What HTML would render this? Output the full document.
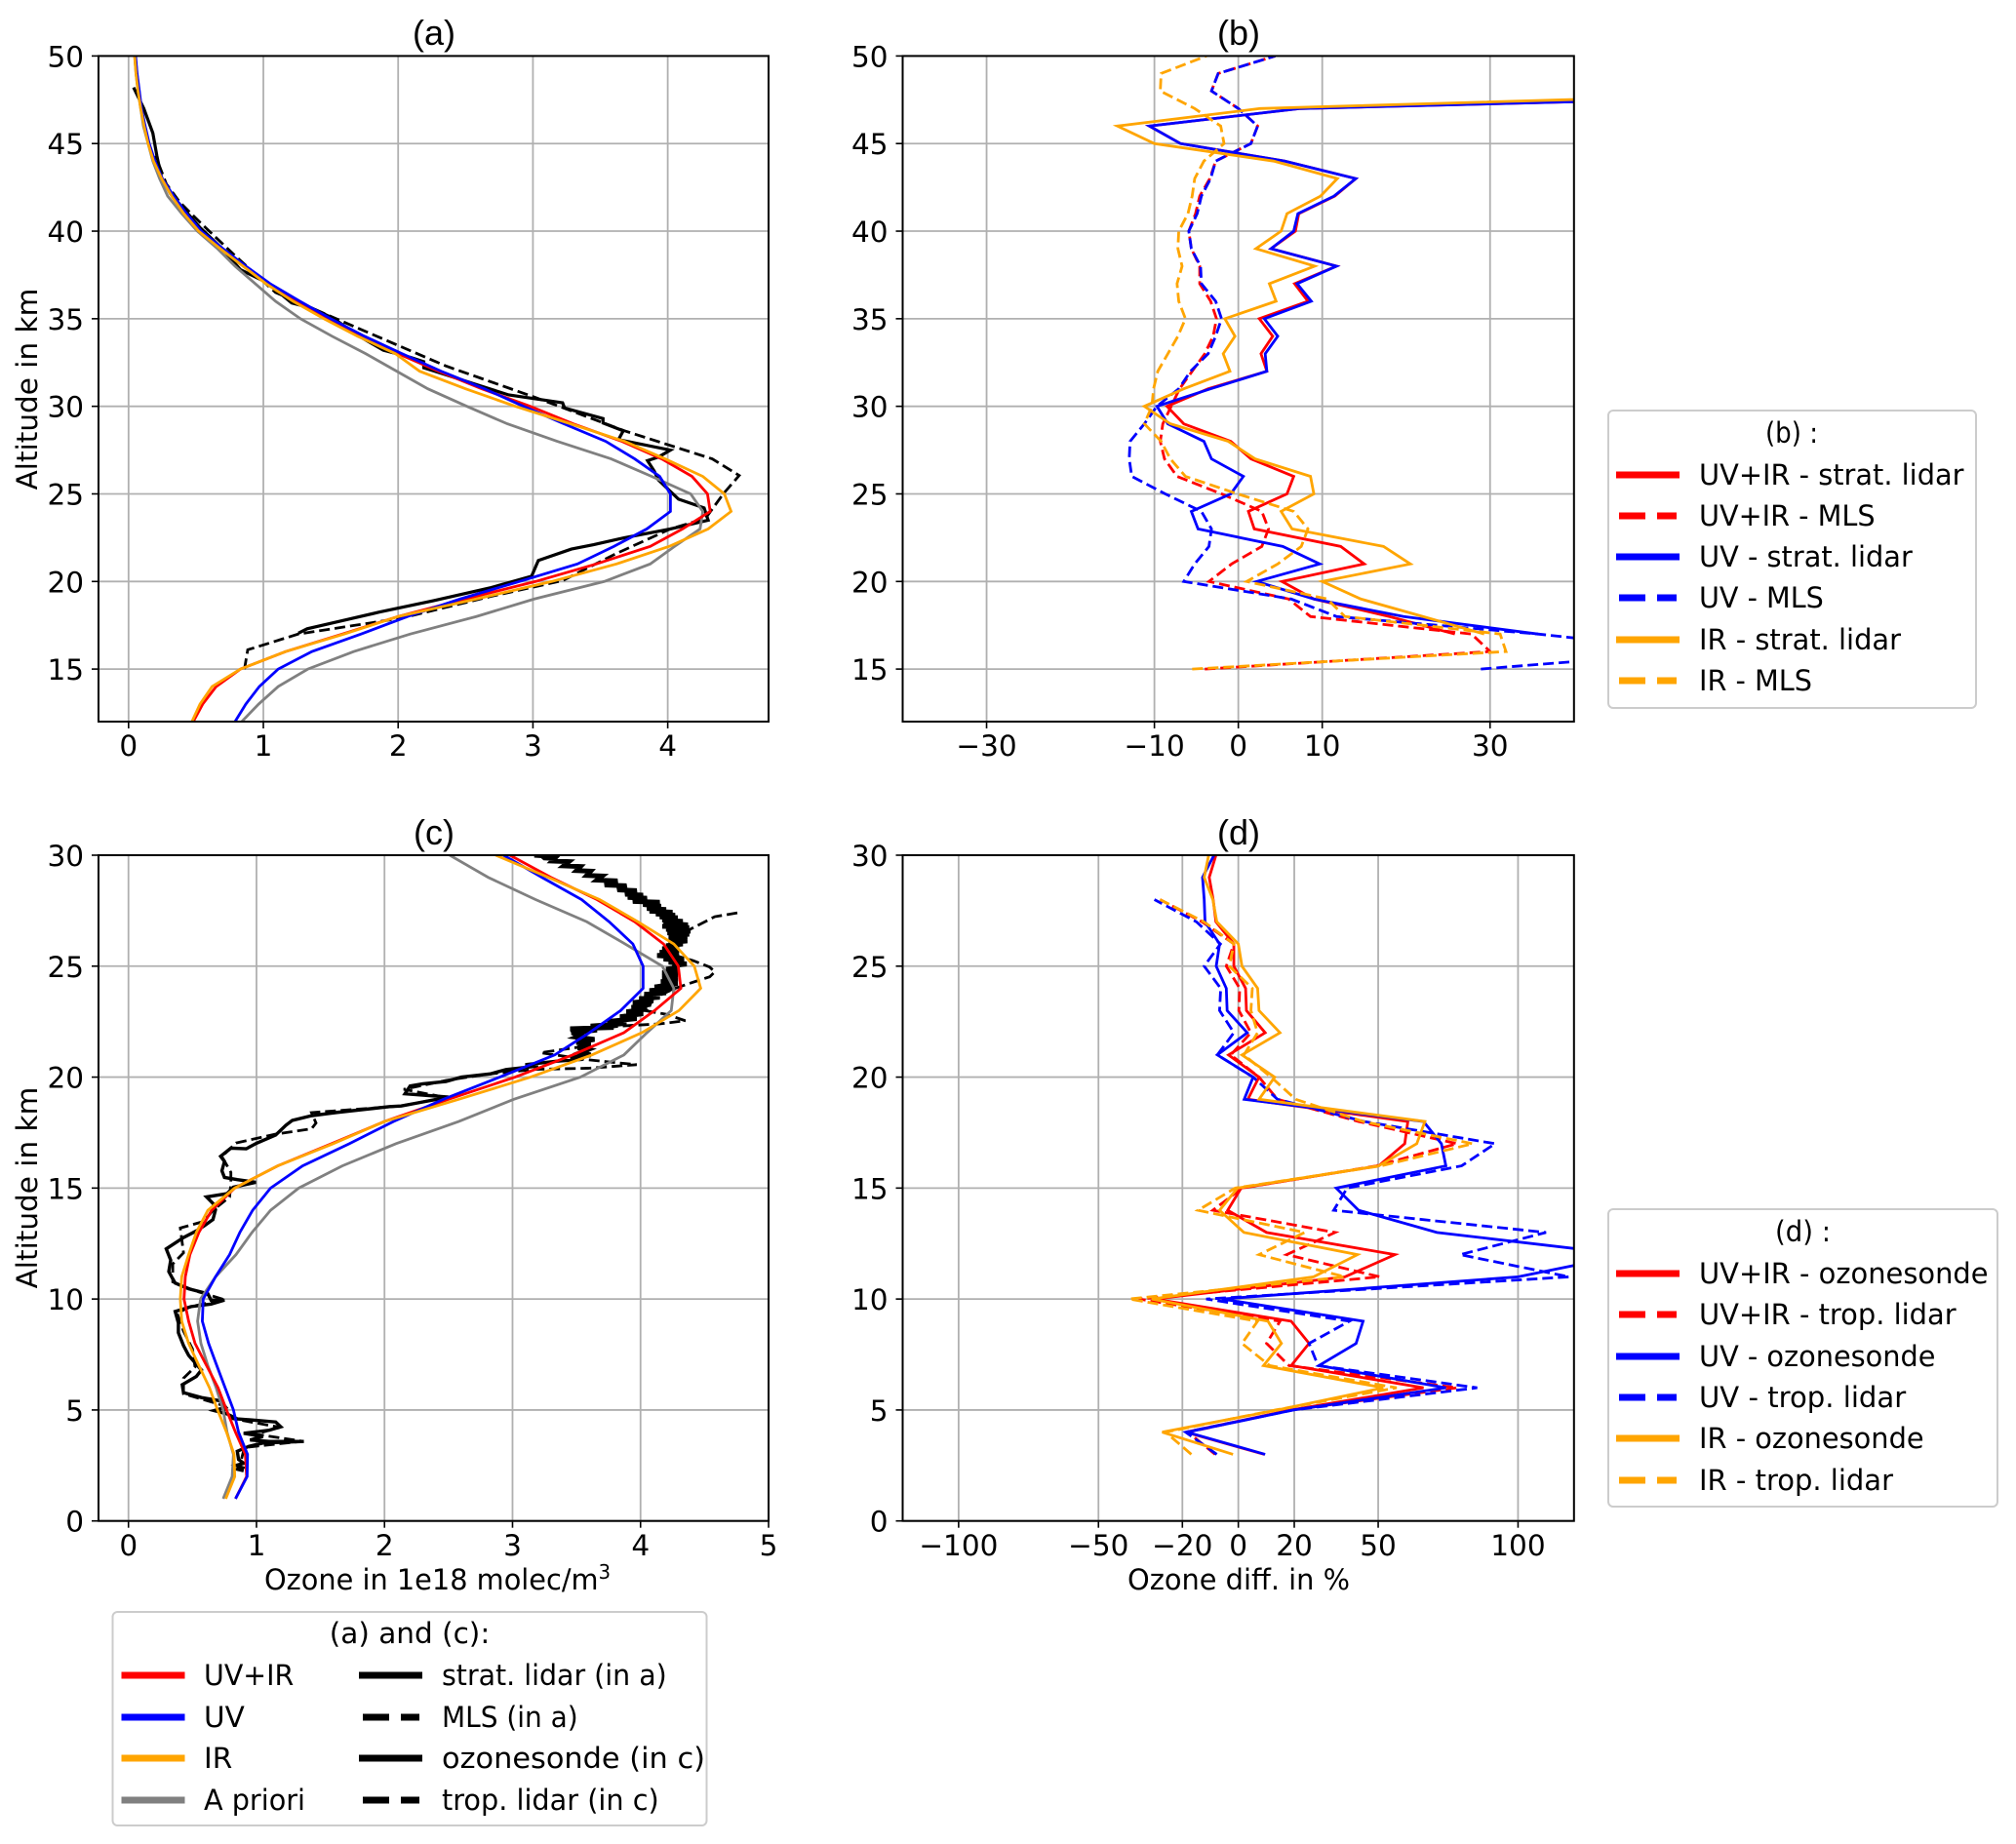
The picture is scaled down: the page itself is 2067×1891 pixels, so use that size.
<!DOCTYPE html>
<html>
<head>
<meta charset="utf-8">
<title>Ozone profiles</title>
<style>
html,body{margin:0;padding:0;background:#fff;}
svg{display:block;}
text{font-family:"DejaVu Sans","Liberation Sans",sans-serif;fill:#000;}
.lab{font-size:29.5px;}
.title{font-family:"Liberation Sans",sans-serif;font-size:36px;}
</style>
</head>
<body>
<svg id="chart" xmlns="http://www.w3.org/2000/svg" width="2067" height="1891" viewBox="0 0 2067 1891">
<rect x="0" y="0" width="2067" height="1891" fill="#fff"/>
<defs id="defs"></defs>
<g id="panel-a"></g>
<g id="panel-b"></g>
<g id="panel-c"></g>
<g id="panel-d"></g>

<text class="title" x="445" y="46" text-anchor="middle">(a)</text>
<text class="title" x="1270" y="46" text-anchor="middle">(b)</text>
<text class="title" x="445" y="866" text-anchor="middle">(c)</text>
<text class="title" x="1270" y="866" text-anchor="middle">(d)</text>

<text class="lab" transform="translate(38,399) rotate(-90)" text-anchor="middle">Altitude in km</text>
<text class="lab" transform="translate(38,1218) rotate(-90)" text-anchor="middle">Altitude in km</text>
<text class="lab" x="271" y="1630" textLength="355" lengthAdjust="spacingAndGlyphs">Ozone in 1e18 molec/m<tspan font-size="20" dy="-11">3</tspan></text>
<text class="lab" x="1156" y="1630" textLength="228" lengthAdjust="spacingAndGlyphs">Ozone diff. in %</text>

<g>
<rect x="1649" y="421" width="377" height="305" rx="5" fill="#fff" stroke="#cccccc" stroke-width="2"/>
<text class="lab" x="1810" y="454" textLength="54" lengthAdjust="spacingAndGlyphs">(b) :</text>
<line x1="1657" x2="1722" y1="487" y2="487" stroke="#ff0000" stroke-width="7"/>
<text class="lab" x="1742" y="497" textLength="271.5" lengthAdjust="spacingAndGlyphs">UV+IR - strat. lidar</text>
<line x1="1660" x2="1719" y1="529" y2="529" stroke="#ff0000" stroke-width="7" stroke-dasharray="27 12"/>
<text class="lab" x="1742" y="539" textLength="180.6" lengthAdjust="spacingAndGlyphs">UV+IR - MLS</text>
<line x1="1657" x2="1722" y1="571" y2="571" stroke="#0000ff" stroke-width="7"/>
<text class="lab" x="1742" y="581" textLength="218.8" lengthAdjust="spacingAndGlyphs">UV - strat. lidar</text>
<line x1="1660" x2="1719" y1="613" y2="613" stroke="#0000ff" stroke-width="7" stroke-dasharray="27 12"/>
<text class="lab" x="1742" y="623" textLength="127.8" lengthAdjust="spacingAndGlyphs">UV - MLS</text>
<line x1="1657" x2="1722" y1="656" y2="656" stroke="#ffa500" stroke-width="7"/>
<text class="lab" x="1742" y="666" textLength="207" lengthAdjust="spacingAndGlyphs">IR - strat. lidar</text>
<line x1="1660" x2="1719" y1="698" y2="698" stroke="#ffa500" stroke-width="7" stroke-dasharray="27 12"/>
<text class="lab" x="1742" y="708" textLength="116" lengthAdjust="spacingAndGlyphs">IR - MLS</text>
</g>

<g>
<rect x="1649" y="1240" width="399" height="305" rx="5" fill="#fff" stroke="#cccccc" stroke-width="2"/>
<text class="lab" x="1820" y="1273" textLength="57" lengthAdjust="spacingAndGlyphs">(d) :</text>
<line x1="1657" x2="1722" y1="1306" y2="1306" stroke="#ff0000" stroke-width="7"/>
<text class="lab" x="1742" y="1316" textLength="296.6" lengthAdjust="spacingAndGlyphs">UV+IR - ozonesonde</text>
<line x1="1660" x2="1719" y1="1348" y2="1348" stroke="#ff0000" stroke-width="7" stroke-dasharray="27 12"/>
<text class="lab" x="1742" y="1358" textLength="263.6" lengthAdjust="spacingAndGlyphs">UV+IR - trop. lidar</text>
<line x1="1657" x2="1722" y1="1391" y2="1391" stroke="#0000ff" stroke-width="7"/>
<text class="lab" x="1742" y="1401" textLength="242.5" lengthAdjust="spacingAndGlyphs">UV - ozonesonde</text>
<line x1="1660" x2="1719" y1="1433" y2="1433" stroke="#0000ff" stroke-width="7" stroke-dasharray="27 12"/>
<text class="lab" x="1742" y="1443" textLength="212.2" lengthAdjust="spacingAndGlyphs">UV - trop. lidar</text>
<line x1="1657" x2="1722" y1="1475" y2="1475" stroke="#ffa500" stroke-width="7"/>
<text class="lab" x="1742" y="1485" textLength="230.6" lengthAdjust="spacingAndGlyphs">IR - ozonesonde</text>
<line x1="1660" x2="1719" y1="1518" y2="1518" stroke="#ffa500" stroke-width="7" stroke-dasharray="27 12"/>
<text class="lab" x="1742" y="1528" textLength="199" lengthAdjust="spacingAndGlyphs">IR - trop. lidar</text>
</g>

<g>
<rect x="115.5" y="1653" width="609" height="219" rx="5" fill="#fff" stroke="#cccccc" stroke-width="2"/>
<text class="lab" x="420" y="1685" text-anchor="middle">(a) and (c):</text>
<line x1="124.5" x2="189.5" y1="1718" y2="1718" stroke="#ff0000" stroke-width="7"/>
<text class="lab" x="209" y="1728" textLength="92.3" lengthAdjust="spacingAndGlyphs">UV+IR</text>
<line x1="124.5" x2="189.5" y1="1761" y2="1761" stroke="#0000ff" stroke-width="7"/>
<text class="lab" x="209" y="1771">UV</text>
<line x1="124.5" x2="189.5" y1="1803" y2="1803" stroke="#ffa500" stroke-width="7"/>
<text class="lab" x="209" y="1813">IR</text>
<line x1="124.5" x2="189.5" y1="1846" y2="1846" stroke="#808080" stroke-width="7"/>
<text class="lab" x="209" y="1856" textLength="104" lengthAdjust="spacingAndGlyphs">A priori</text>
<line x1="368" x2="433" y1="1718" y2="1718" stroke="#000" stroke-width="7"/>
<text class="lab" x="453" y="1728" textLength="230.7" lengthAdjust="spacingAndGlyphs">strat. lidar (in a)</text>
<line x1="372" x2="430" y1="1761" y2="1761" stroke="#000" stroke-width="7" stroke-dasharray="27 12"/>
<text class="lab" x="453" y="1771" textLength="139.7" lengthAdjust="spacingAndGlyphs">MLS (in a)</text>
<line x1="368" x2="433" y1="1803" y2="1803" stroke="#000" stroke-width="7"/>
<text class="lab" x="453" y="1813" textLength="270" lengthAdjust="spacingAndGlyphs">ozonesonde (in c)</text>
<line x1="372" x2="430" y1="1846" y2="1846" stroke="#000" stroke-width="7" stroke-dasharray="27 12"/>
<text class="lab" x="453" y="1856" textLength="222.7" lengthAdjust="spacingAndGlyphs">trop. lidar (in c)</text>
</g>
</svg>

<script>
// ---- Tick labels ----
const ticksA = [0, 1, 2, 3, 4];
const ticksB = [-30, -10, 0, 10, 30];
const ticksC = [0, 1, 2, 3, 4, 5];
const ticksD = [-100, -50, -20, 0, 20, 50, 100];
const altTicksTop = [15, 20, 25, 30, 35, 40, 45, 50];
const altTicksBottom = [0, 5, 10, 15, 20, 25, 30];

// ---- Retrievals (ozone, 1e18 molec/m3) at altitudes 1..50 km ----
const retrievalAlt = [1,2,3,4,5,6,7,8,9,10,11,12,13,14,15,16,17,18,19,20,21,22,23,24,25,26,27,28,29,30,31,32,33,34,35,36,37,38,39,40,41,42,43,44,45,46,47,48,49,50];
const uvIr = [.836,.923,.913,.836,.766,.70,.61,.52,.47,.434,.444,.48,.55,.65,.83,1.165,1.587,2.0,2.5,3.02,3.47,3.87,4.11,4.315,4.295,4.18,3.955,3.66,3.3,2.98,2.62,2.3,2.0,1.72,1.48,1.25,1.04,.86,.69,.53,.42,.33,.25,.19,.15,.12,.095,.078,.062,.05];
const uv = [.836,.927,.93,.86,.82,.755,.69,.626,.577,.584,.68,.79,.87,.97,1.11,1.36,1.725,2.07,2.46,2.9,3.33,3.6,3.845,4.02,4.02,3.94,3.755,3.54,3.23,2.93,2.64,2.32,2.03,1.75,1.5,1.27,1.05,.87,.7,.54,.43,.335,.25,.196,.153,.123,.096,.08,.063,.052];
const ir = [.76,.83,.825,.766,.696,.633,.55,.47,.416,.405,.416,.47,.53,.62,.83,1.165,1.6,2.0,2.58,3.14,3.62,4.01,4.3,4.47,4.42,4.26,3.98,3.68,3.28,2.87,2.5,2.16,1.98,1.7,1.45,1.22,1.02,.85,.68,.52,.41,.32,.245,.185,.145,.115,.09,.07,.055,.045];
const apriori = [.74,.81,.82,.77,.74,.685,.62,.566,.54,.563,.68,.84,.965,1.11,1.33,1.67,2.09,2.58,3.01,3.53,3.87,4.05,4.24,4.26,4.17,3.88,3.58,3.18,2.81,2.51,2.22,1.99,1.76,1.51,1.275,1.09,.94,.79,.66,.51,.395,.29,.23,.18,.145,.11,.09,.07,.055,.045];

// ---- Stratospheric lidar, panel a ----
const stratLidarO3 = [.037,.113,.18,.21,.245,.31,.395,.53,.695,.83,1.03,1.21,1.36,1.525,1.69,1.89,2.09,2.19,2.19,2.355,2.555,2.82,3.22,3.235,3.52,3.52,3.67,3.635,4.02,3.93,3.85,3.9,3.93,4.08,4.27,4.3,4.02,3.68,3.45,3.285,3.04,2.99,2.69,2.26,1.86,1.325,1.26];
const stratLidarAlt = [48.2,47,45.6,44.3,43.05,42.15,41.4,40.2,39,37.8,37.05,35.9,35.6,35,34.1,33.2,32.8,32.55,32.2,31.8,31.3,30.65,30.2,29.9,29.3,29.05,28.6,28.1,27.5,27.1,26.9,26.3,25.8,24.7,24.2,23.5,23,22.5,22.1,21.85,21.2,20.3,19.65,18.9,18.25,17.3,17.05];

// ---- MLS, panel a ----
const mlsO3 = [.86,.884,1.26,2.02,2.69,3.22,3.62,4.02,4.28,4.415,4.53,4.33,3.68,3.02,2.355,1.69,1.09,.79,.53,.38,.28,.2];
const mlsAlt = [15,16.1,17,17.9,19.15,20.05,21.6,23,23.6,25.03,26.05,27,28.6,30.5,32.3,34.5,36.5,38.6,40.5,41.65,42.7,44.3];

// ---- Ozonesonde, panel c ----
const sondeO3 = [3.17,3.23,3.25,3.33,3.31,3.44,3.40,3.53,3.50,3.61,3.58,3.70,3.66,3.82,3.72,3.89,3.82,3.97,3.88,4.02,3.90,4.05,3.94,4.15,4.02,4.16,4.05,4.20,4.07,4.25,4.12,4.27,4.15,4.29,4.17,4.33,4.18,4.37,4.17,4.38,4.2,4.39,4.21,4.38,4.22,4.365,4.22,4.365,4.22,4.33,4.2,4.3,4.17,4.3,4.15,4.3,4.13,4.3,4.18,4.34,4.22,4.36,4.25,4.3,4.2,4.29,4.17,4.29,4.17,4.29,4.16,4.29,4.11,4.27,4.07,4.2,4.03,4.15,3.99,4.1,3.94,4.08,3.93,4.05,3.89,4.02,3.84,3.97,3.74,3.89,3.61,3.79,3.45,3.66,3.46,3.56,3.5,3.64,3.5,3.61,3.51,3.59,3.53,3.61,3.45,3.55,3.35,3.1,3.2,2.95,2.83,2.6,2.48,2.3,2.2,2.16,2.5,2.27,2.13,2.04,1.63,1.43,1.28,1.23,1.15,1.0,.92,.8,.72,.75,.73,.75,.85,.995,.82,.77,.61,.66,.68,.66,.59,.53,.43,.295,.33,.315,.34,.365,.47,.62,.645,.75,.645,.49,.365,.39,.39,.43,.47,.57,.53,.42,.43,.57,.72,.76,.67,.77,.85,1.0,1.15,1.19,1.1,.9,1.05,.95,1.1,1.37,1.05,.94,.85,.86,.9,.84,.89,.85,.9];
const sondeAlt = [30,29.98,29.88,29.86,29.74,29.71,29.52,29.49,29.31,29.28,29.09,29.06,28.88,28.84,28.66,28.62,28.44,28.40,28.24,28.2,28.1,28.06,27.92,27.88,27.78,27.7,27.6,27.55,27.48,27.43,27.35,27.3,27.22,27.18,27.08,27.02,26.94,26.86,26.8,26.74,26.66,26.58,26.5,26.44,26.36,26.3,26.22,26.14,26.06,26,25.92,25.86,25.78,25.7,25.62,25.56,25.48,25.4,25.32,25.26,25.18,25.1,25.02,24.94,24.86,24.78,24.7,24.6,24.5,24.42,24.3,24.22,24.06,24,23.9,23.8,23.74,23.6,23.54,23.44,23.36,23.28,23.14,23.06,22.94,22.86,22.72,22.64,22.5,22.42,22.3,22.24,22.18,22.12,22,21.94,21.8,21.7,21.56,21.46,21.32,21.24,21.1,21,20.85,20.8,20.72,20.56,20.5,20.34,20.15,20,19.8,19.7,19.6,19.25,19.1,18.85,18.7,18.67,18.41,18.26,18.05,17.83,17.39,17.02,16.77,16.8,16.43,16.2,15.78,15.48,15.38,15.26,15.04,14.75,14.6,14.31,14.02,13.58,13.29,13.07,12.77,12.26,11.75,11.24,10.97,10.72,10.46,10.24,9.95,9.95,9.77,9.66,9.44,8.92,8.48,7.9,7.46,6.8,6.51,6.14,5.78,5.56,5.41,5.12,4.97,4.82,4.6,4.53,4.46,4.24,4.09,3.95,3.8,3.65,3.58,3.58,3.51,3.36,3.14,2.77,2.6,2.5,2.4,2.33,2.26];

// ---- Tropospheric lidar, panel c ----
const tropLidarO3 = [4.756,4.58,4.40,4.25,4.2,4.41,4.54,4.58,4.54,4.38,4.27,4.1,4.05,4.2,4.35,4.15,3.84,3.66,3.46,3.54,3.22,3.59,3.97,3.59,3.18,2.83,2.48,2.15,2.48,2.13,1.43,1.465,1.43,1.15,.84,.73,.8,.8,.79,.66,.59,.405,.43,.346,.346,.52,.75,.486,.38,.43,.5,.52,.43,.43,.73,.8,1.185,.99,1.36,.906,.87];
const tropLidarAlt = [27.4,27.23,26.7,26.2,25.6,25.25,24.96,24.74,24.52,24.22,24,23.56,22.98,22.83,22.54,22.4,22.3,22.17,22.1,21.37,21.1,20.78,20.56,20.4,20.35,20.15,19.85,19.45,19.08,18.7,18.4,17.93,17.67,17.43,17.03,16.42,15.71,15.2,14.6,14,13.5,13.2,12.08,11.58,10.77,10.37,9.97,9.66,9.36,8.55,7.75,6.94,6.43,5.73,5.22,4.62,4.22,3.91,3.59,3.31,2.5];

// ---- Panel b: differences in % ----
const bLidarAlt = [17,18,19,20,21,22,23,24,25,26,27,28,29,30,31,32,33,34,35,36,37,38,39,40,41,42,43,44,45,46,47,48];
const bLidarUvIr = [25.8,18,9,5.2,15,12.2,1.9,1.2,5.8,6.6,1.5,-.9,-6.5,-8.5,-3.6,3.4,2.7,4.1,2.5,8.3,6.7,11.7,3.9,6.8,7.2,11.5,14,5.5,-6.9,-10.6,7.4,92];
const bLidarUv = [35.7,19.7,9,2.2,9.7,5.3,-4.8,-5.6,-.9,.6,-3.2,-4.1,-8.4,-9.7,-3.3,3.4,3.2,4.7,3.1,8.7,7,11.7,3.9,6.6,7.1,11.4,14,5.5,-6.9,-10.6,7.4,92];
const bLidarIr = [29.3,22,14.6,10,20.5,17.3,6.4,5.1,9,8.6,2,-1.2,-8.1,-11.2,-6.5,-1,-1.8,-.4,-1.6,4.5,3.7,9.1,2.1,5.1,5.8,9.8,11.8,4.2,-10,-14.4,2.6,75.6];
const bMlsAlt = [15,16,17,18,19,20,21,22,23,24,25,26,27,28,29,30,31,32,33,34,35,36,37,38,39,40,41,42,43,44,45,46,47,48,49,50];
const bMlsUvIr = [-4,30,27.8,8.6,6,-3.5,-.8,2.8,3.6,2.8,-2,-7.3,-8.8,-9.3,-9,-8,-7,-5.5,-4,-3,-2.6,-3.3,-4.6,-4.6,-5.6,-5.9,-5.1,-4.6,-3.4,-2.7,1.5,2.3,0,-3.2,-2.4,4.4];
const bMlsUv = [28.9,55,35.7,11.7,6.3,-6.5,-5.2,-3.5,-3.2,-4.4,-8.7,-12.7,-13,-12.9,-11.2,-9.7,-7.1,-5.7,-3.6,-2.7,-2,-2.7,-4.4,-4.5,-5.6,-5.9,-4.9,-4.4,-3.3,-2.7,1.5,2.3,0,-3.2,-2.4,4.4];
const bMlsIr = [-5.5,31.9,31.2,12.7,10.6,1,4.7,7.5,8.3,6.6,-.1,-6.3,-8.1,-9.2,-11.2,-10.3,-10.1,-9.6,-8.4,-7.2,-6.3,-7.1,-7.3,-6.7,-7.2,-7.1,-6,-5.5,-5.2,-4.1,-1.7,-2.1,-5.2,-9.3,-9.2,-3.8];

// ---- Panel d: differences in % ----
const dSondeAlt = [3,4,5,6,7,8,9,10,11,12,13,14,15,16,17,18,19,20,21,22,23,24,25,26,27,28,29,30];
const dSondeUvIr = [9.3,-18.8,18.9,66.2,18.9,25.3,18.9,-30,38.1,56,10.1,-3.8,1,50.2,59.5,60.6,3.4,7.4,-3.5,9.6,2.9,2.6,-1.6,-1.6,-8,-9,-10.4,-8];
const dSondeUv = [9.6,-18.3,19.7,74.2,28.8,42.1,44.6,-5.9,100,139,71,43,35,74.2,72.6,66.2,2.1,5.3,-7.5,3.2,-4,-4.3,-7.9,-6.7,-11.9,-12.2,-12.8,-8.7];
const dSondeIr = [-1.9,-27.2,14.1,51.8,9,15.4,10.6,-31,26.9,42.6,2,-6.7,-.3,50.2,63.8,66.7,7.4,13,1.3,14.9,7.4,6.9,1.3,0,-7.7,-9.1,-12.2,-10.6];
const dTropAlt = [3,4,5,6,7,8,9,10,11,12,13,14,15,16,17,18,19,20,21,22,23,24,25,26,27,28];
const dTropUvIr = [-8.3,-18,19,78.2,18.1,10.1,14.9,-35.6,50.6,17.3,34.6,-9.1,1.3,49.4,78.2,43,14,7.4,-2.7,4.5,.2,.5,-4.3,-1.6,-13,-28];
const dTropUv = [-7.7,-18.8,19.7,85.4,28.5,25.3,39.7,-11.5,118.3,79.3,110,34.1,38.9,79.8,91.8,45,14,5.3,-7.5,-1.6,-6.7,-6.3,-12.2,-6.4,-15,-30];
const dTropIr = [-16.8,-26,13.3,56.6,11.2,1.3,6.9,-39,38.1,7.4,23.7,-14.4,-1.1,51,83.8,44.6,20.5,11.7,2,6.9,4.5,5,-3.2,-1.6,-12.3,-28];

const NS = 'http://www.w3.org/2000/svg';
const MINUS = '\u2212';

function el(parent, tag) {
  const e = document.createElementNS(NS, tag);
  parent.appendChild(e);
  return e;
}

function makePanel(id, box, xLim, yLim, xTicks, yTicks, showXLabelsY) {
  const g = document.getElementById('panel-' + id);
  const xf = v => box.l + (v - xLim[0]) / (xLim[1] - xLim[0]) * (box.r - box.l);
  const yf = v => box.b - (v - yLim[0]) / (yLim[1] - yLim[0]) * (box.b - box.t);

  const clip = el(document.getElementById('defs'), 'clipPath');
  clip.setAttribute('id', 'clip-' + id);
  const cr = el(clip, 'rect');
  cr.setAttribute('x', box.l);
  cr.setAttribute('y', box.t);
  cr.setAttribute('width', box.r - box.l);
  cr.setAttribute('height', box.b - box.t);

  const bg = el(g, 'rect');
  
  
  bg.setAttribute('x', box.l);
  bg.setAttribute('y', box.t);
  bg.setAttribute('width', box.r - box.l);
  bg.setAttribute('height', box.b - box.t);
  bg.setAttribute('fill', '#fff');

  xTicks.forEach(t => {
    const gl = el(g, 'line');
    
    
    gl.setAttribute('x1', xf(t));
    gl.setAttribute('x2', xf(t));
    gl.setAttribute('y1', box.t);
    gl.setAttribute('y2', box.b);
    gl.setAttribute('stroke', '#b0b0b0');
    gl.setAttribute('stroke-width', '1.8');
    const tk = el(g, 'line');
    
    
    tk.setAttribute('x1', xf(t));
    tk.setAttribute('x2', xf(t));
    tk.setAttribute('y1', box.b);
    tk.setAttribute('y2', box.b + 7);
    tk.setAttribute('stroke', '#000');
    tk.setAttribute('stroke-width', '1.6');
    const lb = el(g, 'text');
    
    
    lb.setAttribute('class', 'lab');
    lb.setAttribute('x', xf(t));
    lb.setAttribute('y', showXLabelsY);
    lb.setAttribute('text-anchor', 'middle');
    lb.textContent = t < 0 ? MINUS + Math.abs(t) : String(t);
  });
  yTicks.forEach(t => {
    const gl = el(g, 'line');
    
    
    gl.setAttribute('x1', box.l);
    gl.setAttribute('x2', box.r);
    gl.setAttribute('y1', yf(t));
    gl.setAttribute('y2', yf(t));
    gl.setAttribute('stroke', '#b0b0b0');
    gl.setAttribute('stroke-width', '1.8');
    const tk = el(g, 'line');
    
    
    tk.setAttribute('x1', box.l - 7);
    tk.setAttribute('x2', box.l);
    tk.setAttribute('y1', yf(t));
    tk.setAttribute('y2', yf(t));
    tk.setAttribute('stroke', '#000');
    tk.setAttribute('stroke-width', '1.6');
    const lb = el(g, 'text');
    
    
    lb.setAttribute('class', 'lab');
    lb.setAttribute('x', box.l - 15);
    lb.setAttribute('y', yf(t) + 11);
    lb.setAttribute('text-anchor', 'end');
    lb.textContent = String(t);
  });

  const series = (name, xs, ys, color, dashed, width) => {
    const p = el(g, 'path');
    
    
    const n = Math.min(xs.length, ys.length);
    let d = '';
    for (let i = 0; i < n; i++) {
      d += (i ? 'L' : 'M') + xf(xs[i]).toFixed(2) + ' ' + yf(ys[i]).toFixed(2);
    }
    p.setAttribute('d', d);
    p.setAttribute('fill', 'none');
    p.setAttribute('stroke', color);
    p.setAttribute('stroke-width', width || '2.8');
    p.setAttribute('stroke-linejoin', 'miter');
    p.setAttribute('clip-path', 'url(#clip-' + id + ')');
    if (dashed) p.setAttribute('stroke-dasharray', '11 5');
  };

  const finish = () => {
    const fr = el(g, 'rect');
    
    
    fr.setAttribute('x', box.l);
    fr.setAttribute('y', box.t);
    fr.setAttribute('width', box.r - box.l);
    fr.setAttribute('height', box.b - box.t);
    fr.setAttribute('fill', 'none');
    fr.setAttribute('stroke', '#000');
    fr.setAttribute('stroke-width', '2');
  };
  return { series, finish };
}

const RED = '#ff0000', BLUE = '#0000ff', ORANGE = '#ffa500', GRAY = '#808080', BLACK = '#000000';

const pa = makePanel('a', {l:101, r:788, t:57.4, b:740}, [-0.223, 4.748], [12, 50], ticksA, altTicksTop, 775);
pa.series('strat-lidar-line', stratLidarO3, stratLidarAlt, BLACK, false, '3.2');
pa.series('mls-line', mlsO3, mlsAlt, BLACK, true);
pa.series('apriori-line', apriori, retrievalAlt, GRAY, false);
pa.series('uvir-line', uvIr, retrievalAlt, RED, false);
pa.series('uv-line', uv, retrievalAlt, BLUE, false);
pa.series('ir-line', ir, retrievalAlt, ORANGE, false);
pa.finish();

const pb = makePanel('b', {l:925.5, r:1613.8, t:57.4, b:740}, [-40, 40], [12, 50], ticksB, altTicksTop, 775);
pb.series('uvir-strat-lidar-diff', bLidarUvIr, bLidarAlt, RED, false);
pb.series('uvir-mls-diff', bMlsUvIr, bMlsAlt, RED, true);
pb.series('uv-strat-lidar-diff', bLidarUv, bLidarAlt, BLUE, false);
pb.series('uv-mls-diff', bMlsUv, bMlsAlt, BLUE, true);
pb.series('ir-strat-lidar-diff', bLidarIr, bLidarAlt, ORANGE, false);
pb.series('ir-mls-diff', bMlsIr, bMlsAlt, ORANGE, true);
pb.finish();

const sondeSplit = sondeAlt.findIndex(a => a < 20.9);
const pc = makePanel('c', {l:101, r:788, t:877, b:1559.7}, [-0.234, 5], [0, 30], ticksC, altTicksBottom, 1595);
pc.series('trop-lidar-line', tropLidarO3, tropLidarAlt, BLACK, true);
pc.series('ozonesonde-noisy-upper-line', sondeO3.slice(0, sondeSplit + 1), sondeAlt.slice(0, sondeSplit + 1), BLACK, false, '5');
pc.series('ozonesonde-line', sondeO3.slice(sondeSplit), sondeAlt.slice(sondeSplit), BLACK, false, '3.4');
pc.series('apriori-line', apriori, retrievalAlt, GRAY, false);
pc.series('uvir-line', uvIr, retrievalAlt, RED, false);
pc.series('uv-line', uv, retrievalAlt, BLUE, false);
pc.series('ir-line', ir, retrievalAlt, ORANGE, false);
pc.finish();

const pd = makePanel('d', {l:925.5, r:1613.8, t:877, b:1559.7}, [-120, 120], [0, 30], ticksD, altTicksBottom, 1595);
pd.series('uvir-ozonesonde-diff', dSondeUvIr, dSondeAlt, RED, false);
pd.series('uvir-trop-lidar-diff', dTropUvIr, dTropAlt, RED, true);
pd.series('uv-ozonesonde-diff', dSondeUv, dSondeAlt, BLUE, false);
pd.series('uv-trop-lidar-diff', dTropUv, dTropAlt, BLUE, true);
pd.series('ir-ozonesonde-diff', dSondeIr, dSondeAlt, ORANGE, false);
pd.series('ir-trop-lidar-diff', dTropIr, dTropAlt, ORANGE, true);
pd.finish();
</script>
</body>
</html>
